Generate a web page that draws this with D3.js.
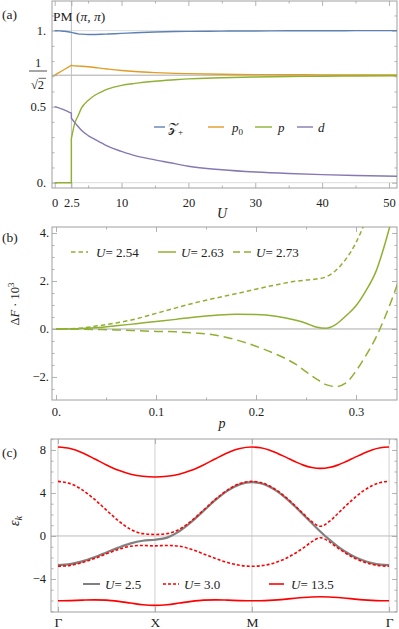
<!DOCTYPE html>
<html><head><meta charset="utf-8">
<script src="https://cdn.jsdelivr.net/npm/d3@7"></script>
<style>body{margin:0;background:#fff} svg text{font-family:"Liberation Serif","DejaVu Serif",serif;fill:#222}</style>
</head><body><svg width="399" height="629"></svg>
<script>
// ---------- Panel (a) data ----------
const U = [0,0.5,1,1.5,2,2.5,2.5,3,3.5,4,5,6,7,8,10,12,15,18,20,25,30,35,40,45,51.2];
const Zplus = [1.0,0.999,0.998,0.996,0.993,0.989,0.989,0.983,0.979,0.977,0.975,0.975,0.976,0.978,0.982,0.986,0.991,0.994,0.995,0.997,0.998,0.999,0.999,1.0,1.0];
const p0 = [0.707,0.720,0.733,0.746,0.759,0.772,0.772,0.768,0.767,0.766,0.763,0.758,0.752,0.747,0.738,0.731,0.724,0.719,0.717,0.713,0.711,0.710,0.709,0.708,0.708];
const pU = [0,0,0,0,0,0,0.29,0.39,0.44,0.49,0.54,0.575,0.598,0.617,0.64,0.653,0.667,0.677,0.683,0.69,0.695,0.698,0.7,0.702,0.703];
const dU = [0.5,0.494,0.486,0.477,0.468,0.457,0.424,0.395,0.37,0.345,0.31,0.285,0.262,0.238,0.206,0.178,0.15,0.125,0.108,0.085,0.07,0.06,0.053,0.047,0.042];
const aXMajor = [0,2.5,10,20,30,40,50], aXMinor=[5,15,25,35,45];
const aYMajor = [0,0.5,1], aYMinor=[0.1,0.2,0.3,0.4,0.6,0.7,0.8,0.9,1.1];

// ---------- Panel (b) data ----------
const pGrid = [0,0.02,0.04,0.06,0.08,0.1,0.12,0.14,0.16,0.18,0.2,0.22,0.24,0.25,0.26,0.27,0.28,0.29,0.3,0.31,0.32,0.33,0.34,0.345];
const dF254 = [0,0.02,0.12,0.25,0.42,0.65,0.88,1.1,1.29,1.47,1.66,1.84,1.99,2.04,2.08,2.17,2.45,2.92,3.6,4.55,5.7,7.0,8.5,9.3];
const dF263 = [0,0.01,0.05,0.13,0.22,0.31,0.4,0.5,0.57,0.61,0.6,0.53,0.36,0.24,0.08,0.03,0.19,0.55,0.97,1.6,2.4,3.7,5.3,6.3];
const dF273 = [0,-0.005,-0.02,-0.04,-0.07,-0.1,-0.12,-0.17,-0.26,-0.45,-0.72,-1.05,-1.48,-1.78,-2.07,-2.32,-2.4,-2.25,-1.75,-1.1,-0.35,0.6,1.7,2.3];
const bXMajor=[0,0.1,0.2,0.3], bXMinor=[0.05,0.15,0.25];
const bYMajor=[-2,0,2,4], bYMinor=[-2.5,-1.5,-1,-0.5,0.5,1,1.5,2.5,3,3.5];

// ---------- Panel (c) data ----------
const kPos = [0,0.125,0.25,0.375,0.5,0.625,0.75,0.875,1,
  1.125,1.25,1.375,1.5,1.625,1.75,1.875,2,
  2.0884,2.1768,2.2652,2.3536,2.4419,2.5303,2.6187,2.7071,2.7955,2.8839,2.9723,3.0607,3.1490,3.2374,3.3258,3.4142];
const e25 = [-2.70,-2.61,-2.36,-1.98,-1.53,-1.08,-0.69,-0.44,-0.35,
  -0.15,0.43,1.30,2.33,3.35,4.22,4.80,5.00,
  4.90,4.60,4.12,3.50,2.77,1.98,1.18,0.40,-0.32,-0.96,-1.51,-1.95,-2.28,-2.52,-2.66,-2.70];
const e30up = [5.08,4.87,4.29,3.42,2.40,1.40,0.61,0.22,0.14,
  0.22,0.61,1.40,2.40,3.42,4.29,4.87,5.08,
  4.98,4.67,4.19,3.57,2.84,2.07,1.33,0.90,1.33,2.07,2.84,3.57,4.19,4.67,4.98,5.08];
const e30lo = [-2.82,-2.73,-2.47,-2.10,-1.66,-1.24,-0.95,-0.88,-0.92,
  -0.88,-0.95,-1.24,-1.66,-2.10,-2.47,-2.73,-2.82,
  -2.77,-2.64,-2.40,-2.07,-1.63,-1.11,-0.53,-0.16,-0.53,-1.11,-1.63,-2.07,-2.40,-2.64,-2.77,-2.82];
const e135up = [8.27,8.13,7.74,7.19,6.61,6.11,5.75,5.55,5.49,
  5.55,5.75,6.11,6.61,7.19,7.74,8.13,8.27,
  8.20,8.00,7.68,7.31,6.93,6.59,6.37,6.29,6.37,6.59,6.93,7.31,7.68,8.00,8.20,8.27];
const e135lo = [-6.03,-6.01,-5.97,-5.94,-5.97,-6.08,-6.24,-6.39,-6.45,
  -6.39,-6.24,-6.08,-5.97,-5.94,-5.97,-6.01,-6.03,
  -6.02,-5.99,-5.94,-5.87,-5.79,-5.72,-5.67,-5.65,-5.67,-5.72,-5.79,-5.87,-5.94,-5.99,-6.02,-6.03];
const kTicks=[0,1,2,3.4142], kLabels=["Γ","X","M","Γ"];
const cYMajor=[-4,0,4,8], cYMinor=[-7,-6,-5,-3,-2,-1,1,2,3,5,6,7,9];

// ---------- helpers ----------
const svg=d3.select("svg");
const FR="#a0a0a0";
const C={blue:"#5E81B5",orange:"#E09C24",green:"#8FB032",purple:"#8778B3",red:"#FF0000",gray:"#808080"};

function tickAxis(g, fn, scale, vals, size, fmt, tx, ty, pad){
  const a=fn(scale).tickValues(vals).tickSize(size).tickPadding(pad||3).tickFormat(fmt||(()=>""));
  const gg=g.append("g").attr("transform",`translate(${tx},${ty})`).call(a);
  gg.select(".domain").remove();
  gg.selectAll("line").attr("stroke",FR).attr("stroke-width",0.8);
  gg.selectAll("text").attr("font-size",12.5).attr("fill","#222").attr("font-family","Liberation Serif");
  return gg;
}
function frame(g,x,y,o){
  const [xl,xr]=x.range(), [yb,yt]=y.range();
  tickAxis(g,d3.axisBottom,x,o.xMajor,-5,o.xFmt,0,yb,o.xPad);
  tickAxis(g,d3.axisBottom,x,o.xMinor,-2.5,null,0,yb);
  tickAxis(g,d3.axisTop,x,o.xMajor,-5,null,0,yt);
  tickAxis(g,d3.axisTop,x,o.xMinor,-2.5,null,0,yt);
  tickAxis(g,d3.axisLeft,y,o.yMajor,-5,o.yFmt,xl,0,o.yPad);
  tickAxis(g,d3.axisLeft,y,o.yMinor,-2.5,null,xl,0);
  tickAxis(g,d3.axisRight,y,o.yMajor,-5,null,xr,0);
  tickAxis(g,d3.axisRight,y,o.yMinor,-2.5,null,xr,0);
  g.append("rect").attr("x",xl).attr("y",yt).attr("width",xr-xl).attr("height",yb-yt)
    .attr("fill","none").attr("stroke",FR).attr("stroke-width",1);
}
function clip(id,x,y){
  const [xl,xr]=x.range(), [yb,yt]=y.range();
  svg.append("clipPath").attr("id",id).append("rect").attr("x",xl).attr("y",yt).attr("width",xr-xl).attr("height",yb-yt);
}
function hgrid(g,x,y,v,col){g.append("line").attr("x1",x.range()[0]).attr("x2",x.range()[1]).attr("y1",y(v)).attr("y2",y(v)).attr("stroke",col).attr("stroke-width",1);}
function vgrid(g,x,y,v,col){g.append("line").attr("y1",y.range()[0]).attr("y2",y.range()[1]).attr("x1",x(v)).attr("x2",x(v)).attr("stroke",col).attr("stroke-width",1);}
const fmtDot=v=> (Number.isInteger(v)? (v<0?"−":"")+Math.abs(v)+"." : String(v));
function legItem(g,x1,x2,y,col,dash,w,parts,tx){
  g.append("line").attr("x1",x1).attr("x2",x2).attr("y1",y).attr("y2",y).attr("stroke",col).attr("stroke-width",w).attr("stroke-dasharray",dash||null);
  const t=g.append("text").attr("x",tx).attr("y",y+4.5).attr("font-size",13);
  parts.forEach(p=>{const s=t.append("tspan").text(p.t); if(p.i) s.attr("font-style","italic"); if(p.sub) s.attr("font-size",9).attr("dy",p.dy||3); if(p.up) s.attr("dy",p.up);});
}

// ---------- Panel (a) ----------
{
  const x=d3.scaleLinear().domain([-0.4,51.2]).range([52,397]);
  const y=d3.scaleLinear().domain([-0.035,1.195]).range([188,1]);
  const g=svg.append("g");
  clip("ca",x,y);
  hgrid(g,x,y,0,"#dddddd"); hgrid(g,x,y,1,"#dddddd"); hgrid(g,x,y,Math.SQRT1_2,"#aaaaaa");
  vgrid(g,x,y,2.5,"#c0c0c0");
  frame(g,x,y,{xMajor:aXMajor,xMinor:aXMinor,xFmt:v=>String(v),xPad:10,
    yMajor:aYMajor.concat([Math.SQRT1_2]),yMinor:aYMinor,yFmt:v=>(v===Math.SQRT1_2?"":(v===0.5?"0.5":v+".")),yPad:6});
  const pg=g.append("g").attr("clip-path","url(#ca)");
  const line=d3.line().x(d=>x(d[0])).y(d=>y(d[1])).curve(d3.curveMonotoneX);
  const j=U.findIndex((v,i)=>v===U[i+1]);
  function draw(vals,col){
    const pts=U.map((u,i)=>[u,vals[i]]);
    const a=pts.slice(0,j+1), b=pts.slice(j+1);
    pg.append("path").attr("d",line(a)+line(b).replace(/^M/,"L")).attr("fill","none").attr("stroke",col).attr("stroke-width",1.4);
  }
  draw(Zplus,C.blue); draw(p0,C.orange); draw(pU,C.green); draw(dU,C.purple);
  // 1/sqrt2 label
  g.append("text").attr("x",38).attr("y",67).attr("text-anchor","middle").attr("font-size",12.5).text("1");
  g.append("line").attr("x1",29).attr("x2",47).attr("y1",71).attr("y2",71).attr("stroke","#222").attr("stroke-width",0.8);
  g.append("text").attr("x",37.5).attr("y",89).attr("text-anchor","middle").attr("font-size",12.5).text("√2");
  g.append("line").attr("x1",38.5).attr("x2",46).attr("y1",78.3).attr("y2",78.3).attr("stroke","#222").attr("stroke-width",0.7);
  // title
  const t=g.append("text").attr("x",53).attr("y",21).attr("font-size",13.5);
  t.append("tspan").text("PM  (");
  t.append("tspan").attr("font-style","italic").text("π");
  t.append("tspan").text(", ");
  t.append("tspan").attr("font-style","italic").text("π");
  t.append("tspan").text(")");
  svg.append("text").attr("x",2).attr("y",19).attr("font-size",13.5).text("(a)");
  svg.append("text").attr("x",222).attr("y",218).attr("font-size",14).attr("font-style","italic").attr("text-anchor","middle").text("U");
  // legend
  const ly=127;
  legItem(g,154,165,ly,C.blue,null,1.4,[{t:"𝒵"},{t:"+",sub:1,dy:3}],168);
  legItem(g,208,224,ly,C.orange,null,1.4,[{t:"p",i:1},{t:"0",sub:1,dy:3}],232);
  legItem(g,255,272,ly,C.green,null,1.4,[{t:"p",i:1}],278);
  legItem(g,297,313,ly,C.purple,null,1.4,[{t:"d",i:1}],318);
}

// ---------- Panel (b) ----------
{
  const x=d3.scaleLinear().domain([-0.004,0.341]).range([52,397]);
  const y=d3.scaleLinear().domain([-2.96,4.25]).range([400,227]);
  const g=svg.append("g");
  clip("cb",x,y);
  hgrid(g,x,y,0,"#aaaaaa");
  frame(g,x,y,{xMajor:bXMajor,xMinor:bXMinor,xFmt:v=>(v===0?"0.":String(v)),xPad:7,
    yMajor:bYMajor,yMinor:bYMinor,yFmt:fmtDot,yPad:3});
  const pg=g.append("g").attr("clip-path","url(#cb)");
  const line=d3.line().x(d=>x(d[0])).y(d=>y(d[1])).curve(d3.curveMonotoneX);
  const draw=(vals,dash)=>pg.append("path").attr("d",line(pGrid.map((p,i)=>[p,vals[i]]))).attr("fill","none")
      .attr("stroke",C.green).attr("stroke-width",1.5).attr("stroke-dasharray",dash);
  draw(dF254,"4.5,3"); draw(dF263,null); draw(dF273,"9,5");
  svg.append("text").attr("x",2).attr("y",242).attr("font-size",13.5).text("(b)");
  svg.append("text").attr("x",222).attr("y",428).attr("font-size",14).attr("font-style","italic").attr("text-anchor","middle").text("p");
  const yl=svg.append("text").attr("transform","translate(19,304) rotate(-90)").attr("text-anchor","middle").attr("font-size",12.5);
  yl.append("tspan").text("Δ"); yl.append("tspan").attr("font-style","italic").text("F");
  yl.append("tspan").text(" · 10"); yl.append("tspan").attr("font-size",9).attr("dy",-5).text("3");
  const ly=252;
  legItem(g,71,88,ly,C.green,"4.5,3",1.5,[{t:"U",i:1},{t:"= 2.54"}],96);
  legItem(g,158,176,ly,C.green,null,1.5,[{t:"U",i:1},{t:"= 2.63"}],181);
  legItem(g,233,251,ly,C.green,"7,4",1.5,[{t:"U",i:1},{t:"= 2.73"}],256);
}

// ---------- Panel (c) ----------
{
  const x=d3.scaleLinear().domain([-0.072,3.496]).range([51,397]);
  const y=d3.scaleLinear().domain([-7.07,9.02]).range([612,439]);
  const g=svg.append("g");
  clip("cc",x,y);
  kTicks.forEach(k=>vgrid(g,x,y,k,"#d0d0d0"));
  hgrid(g,x,y,0,"#bbbbbb");
  frame(g,x,y,{xMajor:kTicks,xMinor:[],xFmt:(v,i)=>kLabels[i],xPad:5,
    yMajor:cYMajor,yMinor:cYMinor,yFmt:v=>(v<0?"−":"")+Math.abs(v),yPad:5});
  g.selectAll("g text").filter(function(){return kLabels.includes(this.textContent);}).attr("font-size",13.5);
  const pg=g.append("g").attr("clip-path","url(#cc)");
  const line=d3.line().x(d=>x(d[0])).y(d=>y(d[1])).curve(d3.curveMonotoneX);
  const draw=(vals,col,dash,w)=>pg.append("path").attr("d",line(kPos.map((k,i)=>[k,vals[i]]))).attr("fill","none")
      .attr("stroke",col).attr("stroke-width",w).attr("stroke-dasharray",dash);
  draw(e25,C.gray,null,2.2);
  draw(e30up,C.red,"3,2",1.6); draw(e30lo,C.red,"3,2",1.6);
  draw(e135up,C.red,null,1.6); draw(e135lo,C.red,null,1.6);
  svg.append("text").attr("x",2).attr("y",457).attr("font-size",13.5).text("(c)");
  const yl=svg.append("text").attr("transform","translate(19,521) rotate(-90)").attr("text-anchor","middle").attr("font-size",14);
  yl.append("tspan").attr("font-style","italic").text("ε"); yl.append("tspan").attr("font-style","italic").attr("font-size",10).attr("dy",3).text("k");
  const ly=584;
  legItem(g,83,100,ly,C.gray,null,2,[{t:"U",i:1},{t:"= 2.5"}],105);
  legItem(g,163,179,ly,C.red,"3,2",1.6,[{t:"U",i:1},{t:"= 3.0"}],184);
  legItem(g,269,284,ly,C.red,null,1.6,[{t:"U",i:1},{t:"= 13.5"}],291);
}
</script></body></html>
